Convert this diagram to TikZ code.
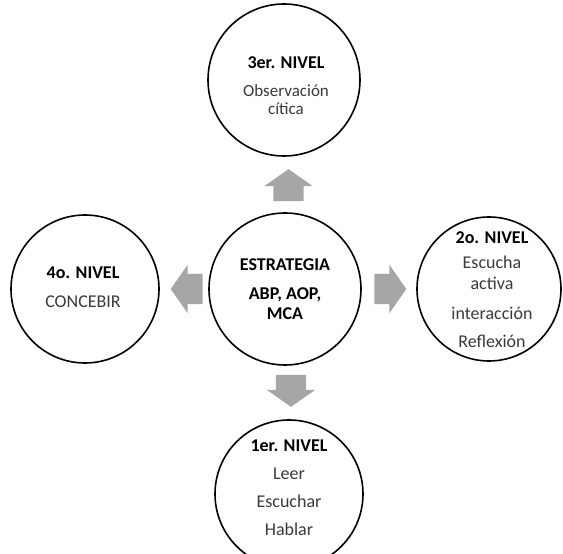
\documentclass[tikz,border=0pt]{standalone}
\usepackage{fontspec}
\setmainfont{Carlito}
\usepackage{xcolor}
\usetikzlibrary{shapes.arrows, calc}
\definecolor{ngray}{HTML}{A6A6A6}
\definecolor{ntext}{HTML}{3A3A3A}

\begin{document}
\begin{tikzpicture}[x=1pt, y=1pt,
  nivel/.style={circle, draw=black, line width=1.6pt, fill=white, inner sep=0pt},
  txt/.style={align=center, font=\fontsize{18}{20}\selectfont, text=ntext},
  flecha/.style={single arrow, fill=ngray, draw=none, inner sep=0pt,
    minimum height=32pt, single arrow head extend=9pt,
    single arrow tip angle=110, single arrow head indent=0pt}]
\useasboundingbox (0,0) rectangle (563,554);
\fill[white] (0,0) rectangle (563,554);
\node[nivel, minimum size=152pt] (centro) at (285,265) {};
\node[nivel, minimum size=152pt] (n3) at (284,474) {};
\node[nivel, minimum size=144pt] (n2) at (489,265) {};
\node[nivel, minimum size=148pt] (n4) at (85,265) {};
\node[nivel, minimum size=148pt] (n1) at (289,60) {};
\node[txt, text=black] (tcentro) at (centro) {\textbf{ESTRATEGIA}\\[9pt]\textbf{ABP, AOP,}\\\textbf{MCA}};
\node[txt] (t3) at ($(n3)+(2,-6)$) {\textcolor{black}{\textbf{3er. NIVEL}}\\[8pt]{\fontsize{17}{18}\selectfont Observación}\\[-2pt]{\fontsize{17}{18}\selectfont cítica}};
\node[txt] (t2) at ($(n2)+(3,-1)$) {\textcolor{black}{\textbf{2o. NIVEL}}\\[5pt]Escucha\\[1pt]activa\\[10pt]interacción\\[8pt]Reflexión};
\node[txt] (t4) at ($(n4)+(-2,2)$) {\textcolor{black}{\textbf{4o. NIVEL}}\\[9pt]CONCEBIR};
\node[txt] (t1) at ($(n1)+(0,6)$) {\textcolor{black}{\textbf{1er. NIVEL}}\\[8pt]Leer\\[8pt]Escuchar\\[8pt]Hablar};
\node[flecha, rotate=90] (aup) at ($(centro.north)!0.5!(n3.south)+(4,-6)$) {\rule{0pt}{30pt}};
\node[flecha] (aright) at ($(centro.east)!0.5!(n2.west)+(-4,0)$) {\rule{0pt}{30pt}};
\node[flecha, rotate=180] (aleft) at ($(centro.west)!0.5!(n4.east)+(8,0)$) {\rule{0pt}{30pt}};
\node[flecha, rotate=270] (adown) at ($(centro.south)!0.5!(n1.north)+(4,7)$) {\rule{0pt}{30pt}};
\end{tikzpicture}
\end{document}
